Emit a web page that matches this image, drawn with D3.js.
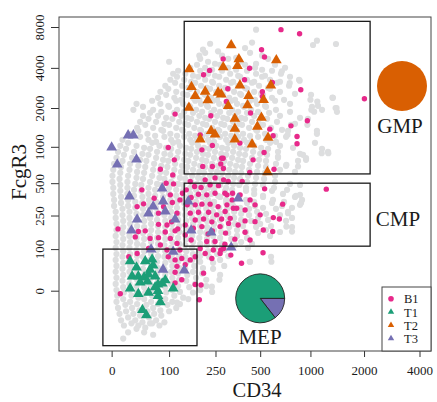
<!DOCTYPE html>
<html><head><meta charset="utf-8">
<script src="https://cdn.jsdelivr.net/npm/d3@7"></script>
<style>
body{margin:0;background:#fff}
svg{display:block}
text{font-family:"Liberation Serif","Times New Roman",serif;fill:#1a1a1a}
</style>
</head><body>
<svg id="chart" width="437" height="402"></svg>
<script>
// ---- axis ticks / domains (raw units, log(x+100)-type display) ----
const xTicks = [0, 100, 250, 500, 1000, 2000, 4000];
const yTicks = [0, 100, 250, 500, 1000, 2000, 4000, 8000];
const xDomain = [-47, 4610];
const yDomain = [-63.4, 9470];

// ---- background (all cells), [CD34, FcgR3] ----
const background = [
[471,7650],
[228,6030],[444,6150],[1035,5900],[1090,6350],[1397,6000],
[201,5450],[261,5300],[400,5600],
[188,4920],[209,5170],[279,4920],[349,4750],[431,5170],[514,4920],
[100,4440],[191,4670],[220,4440],[248,4290],[308,4670],[371,4440],[471,4290],[560,4670],
[158,4007],[180,4218],[209,4007],[236,3872],[270,4218],[308,4007],[349,3872],[400,4218],[464,4007],[514,3872],[618,4218],[710,4007],
[110,3616],[123,3807],[143,3616],[167,3494],[191,3807],[220,3616],[248,3494],[279,3807],[318,3616],[360,3494],[412,3807],[471,3616],[536,3494],[592,3807],[671,3616],
[103,3263],[120,3436],[140,3263],[161,3153],[184,3436],[209,3263],[236,3153],[266,3436],[298,3263],[333,3153],[371,3436],[412,3263],[458,3153],[514,3436],[576,3263],[662,3153],[760,3436],[859,3263],
[91,2942],[115,3098],[134,2942],[152,2842],[174,3098],[194,2942],[216,2842],[240,3098],[266,2942],[293,2842],[323,3098],[360,2942],[400,2842],[444,3098],[492,2942],[560,2842],[635,3098],[750,2942],
[80,2652],[98,2793],[118,2652],[137,2562],[158,2793],[180,2652],[205,2562],[228,2793],[253,2652],[279,2562],[308,2793],[338,2652],[371,2562],[412,2793],[458,2652],[507,2562],[576,2793],[662,2652],[813,2562],
[75,2390],[93,2518],[113,2390],[131,2308],[149,2518],[167,2390],[188,2308],[209,2518],[232,2390],[257,2308],[284,2518],[313,2390],[343,2308],[377,2518],[418,2390],[464,2308],[521,2518],[592,2390],[700,2308],[1008,2518],[1343,2390],
[35,2153],[63,2269],[80,2153],[98,2079],[118,2269],[137,2153],[155,2079],[174,2269],[194,2153],[216,2079],[240,2269],[266,2153],[293,2079],[323,2269],[354,2153],[388,2079],[431,2269],[478,2153],[536,2079],[618,2269],[760,2153],[1105,2079],
[30,1938],[46,2043],[65,1938],[82,1871],[100,2043],[120,1938],[140,1871],[158,2043],[177,1938],[198,1871],[220,2043],[244,1938],[270,1871],[298,2043],[328,1938],[360,1871],[394,2043],[438,1938],[485,1871],[544,2043],[626,1938],[760,1871],[1021,2043],[1165,1938],[1415,1871],
[46,1744],[59,1839],[75,1744],[93,1683],[113,1839],[131,1744],[149,1683],[167,1839],[188,1744],[209,1683],[232,1839],[257,1744],[284,1683],[313,1839],[343,1744],[377,1683],[412,1839],[458,1744],[507,1683],[568,1839],[662,1744],[870,1683],
[41,1568],[56,1654],[71,1568],[89,1513],[108,1654],[126,1568],[143,1513],[161,1654],[180,1568],[201,1513],[224,1654],[248,1568],[275,1513],[303,1654],[333,1568],[366,1513],[400,1654],[444,1568],[492,1513],[552,1654],[635,1568],[813,1513],[968,1654],
[36,1409],[50,1486],[65,1409],[82,1359],[100,1486],[118,1409],[134,1359],[152,1486],[171,1409],[191,1359],[213,1486],[236,1409],[261,1359],[289,1486],[318,1409],[349,1359],[382,1486],[425,1409],[471,1359],[521,1486],[584,1409],[681,1359],[770,1486],
[25,1266],[38,1336],[54,1266],[69,1221],[86,1336],[103,1266],[120,1221],[137,1336],[155,1266],[174,1221],[194,1336],[216,1266],[240,1221],[266,1336],[293,1266],[323,1221],[354,1336],[388,1266],[431,1221],[478,1336],[536,1266],[618,1221],[740,1336],[1090,1266],
[14,1136],[41,1199],[56,1136],[71,1096],[89,1199],[105,1136],[123,1096],[140,1199],[158,1136],[177,1096],[198,1199],[220,1136],[244,1096],[270,1199],[298,1136],[328,1096],[360,1199],[394,1136],[438,1096],[485,1199],[544,1136],[626,1096],[720,1199],
[11,1018],[22,1075],[35,1018],[48,981],[63,1075],[78,1018],[93,981],[110,1075],[128,1018],[146,981],[164,1075],[184,1018],[205,981],[228,1075],[253,1018],[279,981],[308,1075],[338,1018],[371,981],[412,1075],[458,1018],[507,981],[576,1075],[662,1018],[792,981],[1062,1075],
[8,911],[19,963],[31,911],[45,878],[59,963],[73,911],[89,878],[105,963],[123,911],[143,878],[161,963],[180,911],[201,878],[224,963],[248,911],[275,878],[303,963],[333,911],[366,878],[406,963],[451,911],[500,878],[560,963],[644,911],[870,878],[1165,963],[1260,911],
[6,815],[16,862],[28,815],[41,785],[56,862],[71,815],[86,785],[103,862],[120,815],[140,785],[158,862],[177,815],[198,785],[220,862],[244,815],[270,785],[298,862],[328,815],[360,785],[400,862],[444,815],[492,785],[552,862],[644,815],[943,785],
[3,728],[14,770],[25,728],[38,701],[52,770],[67,728],[82,701],[98,770],[115,728],[134,701],[152,770],[171,728],[191,701],[213,770],[236,728],[261,701],[289,770],[318,728],[349,701],[388,770],[431,728],[485,701],[544,770],[626,728],[720,701],[847,770],
[2,649],[12,687],[24,649],[36,624],[50,687],[65,649],[80,624],[96,687],[113,649],[131,624],[149,687],[167,649],[188,624],[209,687],[232,649],[257,624],[284,687],[313,649],[343,624],[382,687],[425,649],[478,624],[544,687],[662,649],[813,624],
[1,578],[11,613],[22,578],[35,556],[48,613],[63,578],[78,556],[93,613],[110,578],[128,556],[146,613],[164,578],[184,556],[205,613],[228,578],[253,556],[279,613],[308,578],[338,556],[377,613],[418,578],[471,556],[536,613],[618,578],
[1,513],[10,544],[21,513],[33,493],[46,544],[59,513],[73,493],[89,544],[105,513],[123,493],[143,544],[161,513],[180,493],[201,544],[224,513],[248,493],[275,544],[303,513],[333,493],[371,544],[412,513],[464,493],[529,544],[618,513],[760,493],
[2,455],[11,483],[21,455],[31,437],[43,483],[56,455],[69,437],[84,483],[100,455],[118,437],[137,483],[158,455],[177,437],[198,483],[220,455],[244,437],[270,483],[298,455],[328,437],[366,483],[406,455],[458,437],[521,483],[609,455],[730,437],[870,483],
[2,402],[11,428],[21,402],[31,386],[43,428],[56,402],[69,386],[84,428],[100,402],[118,386],[137,428],[158,402],[180,386],[205,428],[232,402],[261,386],[293,428],[328,402],[366,386],[406,428],[458,402],[521,386],[592,428],[690,402],[824,386],
[3,354],[12,377],[22,354],[33,339],[45,377],[57,354],[71,339],[86,377],[103,354],[120,339],[140,377],[158,354],[177,339],[198,377],[220,354],[244,339],[270,377],[298,354],[328,339],[366,377],[406,354],[458,339],[521,377],[600,354],[700,339],[813,377],[894,354],
[3,311],[12,332],[22,311],[33,298],[45,332],[57,311],[71,298],[86,332],[103,311],[120,298],[140,332],[161,311],[184,298],[209,332],[236,311],[266,298],[298,332],[333,311],[371,298],[412,332],[464,311],[521,298],[592,332],[681,311],[781,298],[882,332],
[5,272],[14,291],[24,272],[35,260],[46,291],[59,272],[73,260],[89,291],[105,272],[123,260],[143,291],[164,272],[188,260],[213,291],[240,272],[270,260],[303,291],[338,272],[377,260],[425,291],[478,272],[544,260],[626,291],[740,272],
[5,236],[14,253],[24,236],[35,225],[46,253],[59,236],[73,225],[89,253],[105,236],[123,225],[143,253],[164,236],[188,225],[213,253],[240,236],[270,225],[303,253],[338,236],[377,225],[425,253],[485,236],[560,225],[662,253],[781,236],
[6,204],[15,220],[25,204],[36,194],[48,220],[61,204],[75,194],[91,220],[108,204],[126,194],[146,220],[167,204],[191,194],[216,220],[244,204],[275,194],[308,220],[343,204],[388,194],[438,220],[500,204],[584,194],[720,220],
[6,175],[15,189],[25,175],[36,166],[48,189],[61,175],[75,166],[91,189],[108,175],[126,166],[146,189],[167,175],[191,166],[216,189],[244,175],[275,166],[313,189],[354,175],[406,166],[471,189],[544,175],[662,166],[781,189],
[5,149],[14,162],[24,149],[35,141],[46,162],[59,149],[73,141],[89,162],[105,149],[123,141],[143,162],[164,149],[188,141],[213,162],[240,149],[270,141],[308,162],[354,149],[412,141],[485,162],[576,149],
[6,125],[15,137],[25,125],[36,118],[48,137],[61,125],[75,118],[91,137],[108,125],[126,118],[146,137],[167,125],[191,118],[216,137],[244,125],[279,118],[323,137],[377,125],[444,118],
[5,104],[14,114],[24,104],[35,97],[46,114],[59,104],[73,97],[89,114],[105,104],[123,97],[143,114],[164,104],[188,97],[216,114],[248,104],[289,97],[343,114],[418,104],
[6,84],[15,93],[25,84],[36,78],[48,93],[61,84],[75,78],[91,93],[108,84],[126,78],[146,93],[167,84],[191,78],[220,93],[257,84],[308,78],
[5,67],[14,76],[24,67],[35,62],[46,76],[59,67],[73,62],[89,76],[105,67],[123,62],[143,76],[164,67],[191,62],[224,76],[270,67],[431,62],[584,76],
[6,51],[15,59],[25,51],[36,46],[48,59],[61,51],[75,46],[91,59],[108,51],[126,46],[146,59],[171,51],[201,46],[240,59],[289,51],
[5,37],[14,44],[24,37],[35,33],[46,44],[59,37],[73,33],[89,44],[105,37],[123,33],[143,44],[167,37],[198,33],[240,44],
[6,24],[15,30],[25,24],[36,20],[48,30],[61,24],[75,20],[91,30],[108,24],[126,20],[149,30],[177,24],[213,20],[270,30],
[5,12],[14,18],[24,12],[35,8],[46,18],[59,12],[73,8],[89,18],[105,12],[123,8],[146,18],[174,12],[213,8],
[6,1],[15,6],[25,1],[36,-2],[48,6],[61,1],[75,-2],[91,6],[108,1],[128,-2],[155,6],[191,1],[236,-2],
[7,-8],[16,-3],[27,-8],[38,-11],[50,-3],[63,-8],[78,-11],[93,-3],[113,-8],[137,-11],[167,-3],
[6,-17],[15,-13],[25,-17],[36,-20],[48,-13],[61,-17],[75,-20],[91,-13],[108,-17],[128,-20],[152,-13],
[8,-25],[18,-21],[28,-25],[40,-28],[52,-21],[65,-25],[80,-28],[96,-21],[118,-25],
[10,-32],[19,-29],[30,-32],[41,-34],[54,-29],[67,-32],[82,-34],[100,-29],
[12,-39],[22,-36],[33,-39],[45,-41],[57,-36],[71,-39],[89,-41],
[16,-44],[27,-42],[38,-44],[50,-46],[63,-42],[78,-44],
[22,-50],[35,-47],[48,-50],[65,-52],
[15,-55],
[1090,1336],[1160,889],[1265,889],[943,810],[870,394],[870,318],[740,264],[781,168],[723,191],[587,62],[429,62],[267,20],[235,7],[120,-18],[59,-42],
[1000,2309],[1095,2240],[1335,2395],[1390,1997],[1050,1875],[960,1487],[906,862],[723,714],[847,692],[644,836],[735,1243],[679,3770],[757,3080],[866,3210],[1407,1997],[1012,1938]
];

// ---- population B1 (circles) ----
const B1 = [
[671,7650],[865,7140],[510,5450],[532,4810],[284,4650],[428,3970],[397,3263],[879,2746],[516,2655],[516,2446],
[299,2240],[434,1830],[960,1597],[770,1460],[574,1376],[601,1222],[836,1207],[836,1057],[370,1070],[529,900],
[451,785],[284,808],[273,727],[609,657],[429,616],[2010,2350],[1232,443],[308,517],[383,517],[533,446],
[330,407],[292,407],[595,3110],[226,3830],[203,3555],[231,1745],[115,1797],[98,987],[113,785],[80,656],
[191,1243],[197,946],[237,1024],[200,692],[237,692],[109,589],[93,500],[111,493],[44,437],[67,367],
[158,517],[306,2794],[47,325],[36,306],[76,264],[87,306],[108,335],[8,180],[50,171],[76,202],
[95,199],[120,264],[135,407],[277,808],[285,666],[172,467],[194,458],[228,483],[263,476],[286,534],
[185,399],[215,394],[248,407],[302,394],[161,373],[174,318],[197,323],[228,323],[261,306],[302,318],
[158,264],[185,270],[222,270],[255,254],[293,274],[174,225],[203,230],[235,215],[277,230],[310,207],
[168,183],[197,191],[237,171],[270,191],[115,171],[143,199],[106,215],[122,180],[38,168],[334,295],
[352,295],[687,323],[603,238],[656,230],[400,220],[464,216],[523,175],[598,168],[400,165],[318,234],
[342,136],[292,117],[273,97],[321,81],[379,58],[521,88],[295,161],[23,76],[11,-5],[56,102],
[80,114],[95,97],[120,120],[98,76],[115,67],[133,71],[120,50],[143,54],[158,67],[174,76],
[115,36],[133,20],[115,14],[174,11],[194,10],[188,-14],[203,34],[235,71],[241,97],[209,86],
[191,102],[270,86],[286,102],[161,133],[215,127],[248,127],[103,139],[76,142],[59,139],[33,145],
[36,86],[146,437],[209,534],[248,555],[328,354],[371,394],[431,354],[143,153],[220,157],[360,199],
[400,284],[464,318],[500,254],[149,318],[128,354],[431,133],[128,97],[103,394],[91,166]
];
// ---- population T1 (triangles) ----
const T1 = [
[25,62],[50,62],[63,67],[65,51],[28,26],[38,26],[48,24],[56,30],[69,26],[91,18],
[41,14],[54,16],[75,10],[25,3],[38,-6],[56,-4],[75,-1],[110,3],[75,-9],[80,-18],
[45,-28],[52,-34],[84,12],[69,5],[35,46],[59,41]
];
// ---- population T2 (triangles) ----
const T2 = [
[323,5830],[364,4600],[284,4010],[356,4100],[629,4520],[370,2940],[582,2940],[422,2450],[525,2280],[308,2055],
[415,2080],[342,1645],[509,1670],[342,1377],[480,1425],[560,1170],[342,1136],[444,1037],[555,616],[155,3873],
[162,2860],[174,2447],[209,2640],[219,2270],[261,2595],[275,2518],[154,1997],[191,1136],[232,1320],[248,1243]
];
// ---- population T3 (triangles) ----
const T3 = [
[22,1222],[30,1222],[0,980],[7,714],[35,785],[84,446],[24,378],[86,340],[65,304],[56,260],
[91,272],[115,225],[36,225],[27,171],[152,340],[161,171],[232,162],[61,97],[110,90],[86,41],
[140,39],[360,361],[323,104]
];

// ---- gates ----
const gateNames = ["GMP", "CMP", "MEP"];
const gateX = [[140, 2160], [140, 2160], [-10, 180]];
const gateY = [[600, 8800], [110, 500], [-60, 100]];
const gateLabelPos = [[3141, 1274], [3064, 196], [499, -59]];

// ---- pies (fraction of T cells per gate) ----
const gmpPieCenter = [3220, 2930];
const gmpPie = [{pop: "T2", value: 1}];
const mepPieCenter = [500, -12];
const mepPie = [{pop: "T3", value: 0.145}, {pop: "T1", value: 0.855}];

const legendLabels = ["B1", "T1", "T2", "T3"];
const colors = {B1: "#E7298A", T1: "#1B9E77", T2: "#D95F02", T3: "#7570B3"};

// ---------------- drawing ----------------
const svg = d3.select("#chart");
const L = 59, R = 431, T = 17, B = 351;
const tf = v => Math.log1p(v / 100);
const xs = d3.scaleLinear().domain(xDomain.map(tf)).range([L, R]);
const ys = d3.scaleLinear().domain(yDomain.map(tf)).range([B, T]);
const X = v => xs(tf(v)), Y = v => ys(tf(v));

// points
const gPts = svg.append("g");
gPts.selectAll(".bg").data(background).join("circle")
  .attr("cx", d => X(d[0])).attr("cy", d => Y(d[1])).attr("r", 3.1).attr("fill", "#dddedf");
gPts.selectAll(".b1").data(B1).join("circle")
  .attr("cx", d => X(d[0])).attr("cy", d => Y(d[1])).attr("r", 2.7).attr("fill", colors.B1);
const tri = d3.symbol().type(d3.symbolTriangle).size(50);
[["T1", T1], ["T2", T2], ["T3", T3]].forEach(([k, arr]) => {
  gPts.append("g").selectAll("path").data(arr).join("path")
    .attr("d", tri).attr("fill", colors[k])
    .attr("transform", d => `translate(${X(d[0])},${Y(d[1]) - 0.5})`);
});

// gates
gateNames.forEach((n, i) => {
  const x0 = X(gateX[i][0]), x1 = X(gateX[i][1]);
  const y0 = Y(gateY[i][1]), y1 = Y(gateY[i][0]);
  svg.append("rect").attr("x", x0).attr("y", y0).attr("width", x1 - x0).attr("height", y1 - y0)
    .attr("fill", "none").attr("stroke", "#1a1a1a").attr("stroke-width", 1.3);
  svg.append("text").attr("x", X(gateLabelPos[i][0])).attr("y", Y(gateLabelPos[i][1]))
    .attr("text-anchor", "middle").attr("font-size", 21).text(n);
});

// pies
function drawPie(center, data, r, stroke) {
  const pie = d3.pie().sort(null).value(d => d.value).startAngle(Math.PI / 2).endAngle(Math.PI / 2 + 2 * Math.PI);
  const arc = d3.arc().innerRadius(0).outerRadius(r);
  const g = svg.append("g").attr("transform", `translate(${X(center[0])},${Y(center[1])})`);
  g.selectAll("path").data(pie(data)).join("path")
    .attr("d", arc).attr("fill", d => colors[d.data.pop])
    .attr("stroke", stroke ? "#222" : "none").attr("stroke-width", 0.9);
}
drawPie(gmpPieCenter, gmpPie, 25, false);
drawPie(mepPieCenter, mepPie, 24.5, true);

// axes
const xAxis = svg.append("g").attr("transform", `translate(0,${B})`)
  .call(d3.axisBottom(xs).tickValues(xTicks.map(tf)).tickFormat((d, i) => xTicks[i]).tickSize(6));
xAxis.select(".domain").remove();
xAxis.selectAll("line").attr("stroke", "#333");
xAxis.selectAll("text").attr("y", 24).attr("dy", 0).attr("font-size", 13)
  .attr("font-family", "Liberation Serif").attr("fill", "#222");

const yAxis = svg.append("g").attr("transform", `translate(${L},0)`)
  .call(d3.axisLeft(ys).tickValues(yTicks.map(tf)).tickFormat((d, i) => yTicks[i]).tickSize(8));
yAxis.select(".domain").remove();
yAxis.selectAll("line").attr("stroke", "#333");
yAxis.selectAll("text").attr("x", 0).attr("dy", 0).attr("text-anchor", "middle")
  .attr("transform", "translate(-15,0) rotate(-90)").attr("font-size", 13)
  .attr("font-family", "Liberation Serif").attr("fill", "#222");

// frame
svg.append("rect").attr("x", L).attr("y", T).attr("width", R - L).attr("height", B - T)
  .attr("fill", "none").attr("stroke", "#444").attr("stroke-width", 1);

// titles
svg.append("text").attr("x", 257).attr("y", 396.5).attr("text-anchor", "middle").attr("font-size", 20.5).text("CD34");
svg.append("text").attr("transform", "translate(25.5,172) rotate(-90)").attr("text-anchor", "middle")
  .attr("font-size", 21).text("FcgR3");

// legend
const lg = svg.append("g");
lg.append("rect").attr("x", 382).attr("y", 287).attr("width", R - 382).attr("height", B - 287)
  .attr("fill", "#fff").attr("stroke", "#444").attr("stroke-width", 1);
const smallTri = d3.symbol().type(d3.symbolTriangle).size(18);
legendLabels.forEach((k, i) => {
  const yy = 298.8 + i * 13.2;
  if (k === "B1") {
    lg.append("circle").attr("cx", 391).attr("cy", yy).attr("r", 2.8).attr("fill", colors[k]);
  } else {
    lg.append("path").attr("d", smallTri).attr("fill", colors[k]).attr("transform", `translate(391,${yy})`);
  }
  lg.append("text").attr("x", 404).attr("y", yy).attr("dy", "0.36em").attr("font-size", 12.5).text(k);
});
</script>
</body></html>
